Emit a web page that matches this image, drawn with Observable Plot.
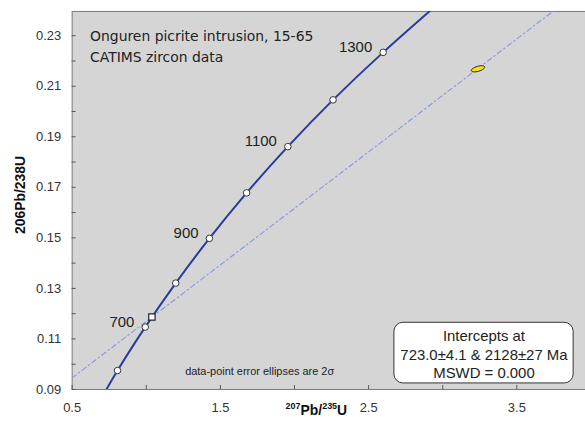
<!DOCTYPE html>
<html>
<head>
<meta charset="utf-8">
<script src="https://cdn.jsdelivr.net/npm/d3@7"></script>
<script src="https://cdn.jsdelivr.net/npm/@observablehq/plot@0.6"></script>
<style>
  html, body { margin: 0; padding: 0; background: #fff; }
  #chart { width: 585px; height: 421px; overflow: hidden; }
  #chart svg { display: block; }
</style>
</head>
<body>
<div id="chart"></div>
<script>
// Concordia age markers (Ma) and their isotope ratios
const ages        = [600, 700, 800, 900, 1000, 1100, 1200, 1300];
const pb207u235   = [0.806, 0.993, 1.199, 1.426, 1.677, 1.955, 2.260, 2.598];
const pb206u238   = [0.0975, 0.1147, 0.1321, 0.1498, 0.1678, 0.1861, 0.2046, 0.2234];
const labelledAges = [700, 900, 1100, 1300];

// Concordia continues past the frame at both ends (500 and 1400 Ma)
const curveEndAges = [500, 1400];
const curveEnd207  = [0.640, 2.970];
const curveEnd206  = [0.0806, 0.2427];

// Discordia chord: left frame edge and upper intercept (2128 Ma)
const chord207 = [0.5, 7.131];
const chord206 = [0.0946, 0.3911];

// Lower intercept (723 Ma)
const lowerIntercept207 = [1.038];
const lowerIntercept206 = [0.1187];

// Measured spot
const spot207 = [3.238];
const spot206 = [0.2169];

// Axis ticks
const xTicks = [0.5, 1.5, 2.5, 3.5];
const xMinorTicks = [0.5, 1.0, 1.5, 2.0, 2.5, 3.0, 3.5];
const yTicks = [0.09, 0.11, 0.13, 0.15, 0.17, 0.19, 0.21, 0.23];
const yMinorTicks = d3.range(9, 24).map(d => d / 100);

const titleText = "Onguren picrite intrusion, 15-65\nCATIMS zircon data";
const resultText = "Intercepts at\n723.0±4.1 & 2128±27 Ma\nMSWD = 0.000";
const noteText = "data-point error ellipses are 2σ";

const markers = ages.map((age, i) => ({age, x: pb207u235[i], y: pb206u238[i]}));
const curve = [
  {age: curveEndAges[0], x: curveEnd207[0], y: curveEnd206[0]},
  ...markers,
  {age: curveEndAges[1], x: curveEnd207[1], y: curveEnd206[1]}
];
const chord = chord207.map((x, i) => ({x, y: chord206[i]}));
const intercept = lowerIntercept207.map((x, i) => ({x, y: lowerIntercept206[i]}));
const spots = spot207.map((x, i) => ({x, y: spot206[i]}));

// Thin tilted error ellipse drawn as a dot symbol
const ellipseSymbol = {
  draw(context) {
    const a = 7, b = 2.5, th = -16 * Math.PI / 180, k = 0.5523;
    const c = Math.cos(th), s = Math.sin(th);
    const P = (u, v) => [u * c - v * s, u * s + v * c];
    context.moveTo(...P(a, 0));
    const segs = [
      [a, k * b, k * a, b, 0, b],
      [-k * a, b, -a, k * b, -a, 0],
      [-a, -k * b, -k * a, -b, 0, -b],
      [k * a, -b, a, -k * b, a, 0]
    ];
    for (const q of segs) {
      context.bezierCurveTo(...P(q[0], q[1]), ...P(q[2], q[3]), ...P(q[4], q[5]));
    }
    context.closePath();
  }
};

const sans = "'Liberation Sans', Arial, Helvetica, sans-serif";

const chart = Plot.plot({
  width: 588,
  height: 421,
  marginLeft: 72,
  marginRight: 0,
  marginTop: 11,
  marginBottom: 30,
  style: {fontFamily: sans, fontSize: "13px", color: "#333", background: "transparent"},
  x: {domain: [0.5, 3.963]},
  y: {domain: [0.09, 0.2396]},
  marks: [
    Plot.frame({fill: "#d5d5d5", stroke: "#7a7a7a"}),
    // discordia
    Plot.line(chord, {x: "x", y: "y", stroke: "#8797e0", strokeWidth: 1.1, strokeDasharray: "5,3,1.5,3", clip: true}),
    // concordia
    Plot.line(curve, {x: "x", y: "y", curve: "natural", stroke: "#2a3a9e", strokeWidth: 2, clip: true}),
    Plot.dot(markers, {x: "x", y: "y", r: 3.3, fill: "#fff", stroke: "#333", strokeWidth: 1}),
    Plot.dot(intercept, {x: "x", y: "y", symbol: "square", r: 3.6, fill: "#fff", stroke: "#222", strokeWidth: 1.2}),
    Plot.dot(spots, {x: "x", y: "y", symbol: ellipseSymbol, fill: "#f4e40c", stroke: "#222", strokeWidth: 1}),
    Plot.text(markers.filter(d => labelledAges.includes(d.age)), {
      x: "x", y: "y", text: d => String(d.age), textAnchor: "end", dx: -11, dy: -5,
      fontSize: 15, fill: "#222"
    }),
    Plot.text([titleText], {
      frameAnchor: "top-left", dx: 18, dy: 15, lineAnchor: "top", lineHeight: 1.5,
      fontFamily: "'DejaVu Sans', Verdana, sans-serif", fontSize: 14, fill: "#222"
    }),
    Plot.rect([resultText], {x1: 2.674, x2: 3.883, y1: 0.0924, y2: 0.1164, rx: 9, fill: "#fff", stroke: "#333", strokeWidth: 1}),
    Plot.text([resultText], {x: 3.278, y: 0.1041, lineHeight: 1.23, fontSize: 15, fill: "#222"}),
    Plot.text([noteText], {x: 1.765, y: 0.0973, fontSize: 11, fill: "#222"}),
    // tick labels
    Plot.axisX({ticks: xTicks, tickSize: 0, tickPadding: 13, label: null, fontSize: 13}),
    Plot.axisY({ticks: yTicks, tickSize: 0, tickPadding: 11, label: null, fontSize: 13}),
    // inward tick marks
    Plot.axisX({ticks: xMinorTicks, tickSize: -4, tickFormat: () => "", label: null, stroke: "#555"}),
    Plot.axisY({ticks: yMinorTicks, tickSize: -4, tickFormat: () => "", label: null, stroke: "#555"})
  ]
});

const svg = d3.select(chart);

// axis titles with isotope superscripts
const xl = svg.append("text")
  .attr("x", 318).attr("y", 417)
  .attr("text-anchor", "middle")
  .attr("font-family", sans).attr("font-weight", "bold").attr("fill", "#111");
xl.append("tspan").attr("font-size", 9).attr("dy", -6).text("207");
xl.append("tspan").attr("font-size", 14).attr("dy", 6).text("Pb/");
xl.append("tspan").attr("font-size", 9).attr("dy", -6).text("235");
xl.append("tspan").attr("font-size", 14).attr("dy", 6).text("U");

svg.append("text")
  .attr("transform", "translate(20,196) rotate(-90)")
  .attr("text-anchor", "middle").attr("dominant-baseline", "central")
  .attr("font-family", sans).attr("font-weight", "bold").attr("font-size", 14).attr("fill", "#111")
  .text("206Pb/238U");

document.getElementById("chart").append(chart);
</script>
</body>
</html>
